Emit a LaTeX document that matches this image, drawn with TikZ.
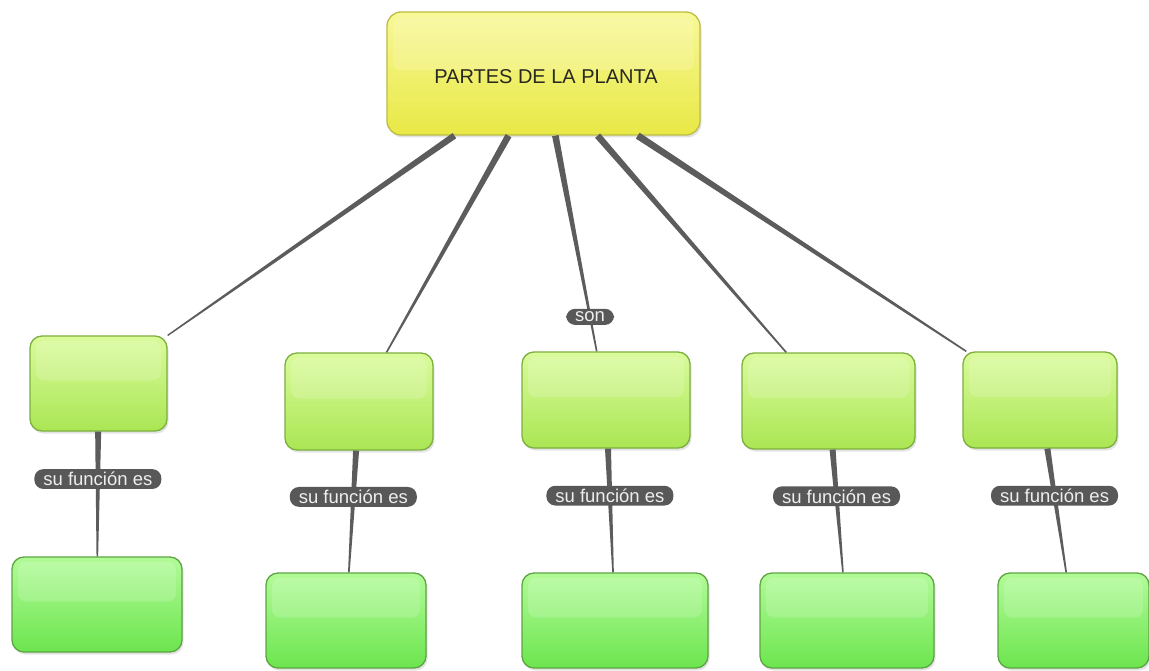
\documentclass[tikz,border=0pt]{standalone}
\usepackage{fontspec}
\setmainfont{Liberation Sans}
\usetikzlibrary{calc,shadows}

\definecolor{linkgrey}{RGB}{92,92,92}
\definecolor{phrasegrey}{RGB}{88,88,88}
\definecolor{rootedge}{RGB}{188,188,70}
\definecolor{partedge}{RGB}{125,175,62}
\definecolor{roleedge}{RGB}{92,165,66}

\tikzset{
  gloss/.style={path picture={\fill[white,opacity=0.16,rounded corners=8pt]
    ($(path picture bounding box.north west)+(6pt,-5pt)$) rectangle
    ($(path picture bounding box.east)+(-6pt,3pt)$);}},
  root/.style={rounded corners=14pt,draw=rootedge,line width=1.3pt,gloss,
    top color={rgb,255:red,248;green,248;blue,150},middle color={rgb,255:red,243;green,243;blue,110},
    bottom color={rgb,255:red,232;green,232;blue,70},
    drop shadow={opacity=0.22,shadow xshift=1.5pt,shadow yshift=-2.5pt},
    inner sep=0pt,font=\fontsize{20}{23}\selectfont,text={rgb,255:red,40;green,40;blue,32}},
  part/.style 2 args={rounded corners=12pt,draw=partedge,line width=1.3pt,gloss,
    top color={rgb,255:red,218;green,251;blue,155},middle color={rgb,255:red,196;green,245;blue,118},
    bottom color={rgb,255:red,170;green,230;blue,84},
    drop shadow={opacity=0.22,shadow xshift=1.5pt,shadow yshift=-2.5pt},
    inner sep=0pt,minimum width=#1,minimum height=#2},
  role/.style 2 args={rounded corners=12pt,draw=roleedge,line width=1.3pt,gloss,
    top color={rgb,255:red,178;green,251;blue,152},middle color={rgb,255:red,140;green,241;blue,110},
    bottom color={rgb,255:red,108;green,229;blue,78},
    drop shadow={opacity=0.22,shadow xshift=1.5pt,shadow yshift=-2.5pt},
    inner sep=0pt,minimum width=#1,minimum height=#2},
  phrase/.style={fill=phrasegrey,text={rgb,255:red,238;green,238;blue,238},rounded corners=9pt,
    inner xsep=9pt,inner ysep=3pt,font=\fontsize{18.5}{19}\selectfont}
}

\newcommand{\Link}[4]{%
  \path (#1) -- (#2) coordinate[pos=0] (la) coordinate[pos=1] (lb);
  \fill[linkgrey] ($(la)!#3!90:(lb)$) -- ($(lb)!#4!-90:(la)$) -- ($(lb)!#4!90:(la)$) -- ($(la)!#3!-90:(lb)$) -- cycle;}

\begin{document}
\begin{tikzpicture}[x=1pt,y=-1pt]
\useasboundingbox[fill=white] (0,0) rectangle (1149,671);
\node[root,minimum width=313pt,minimum height=123pt] (planta) at (543.5,73.5) {\hspace*{5pt}\raisebox{-10pt}[0pt][0pt]{PARTES DE LA PLANTA}};
\node[part={137pt}{95pt}] (p1) at (98.5,383.5) {};
\node[part={148pt}{97pt}] (p2) at (359,401.5) {};
\node[part={168pt}{96pt}] (p3) at (606,400) {};
\node[part={173pt}{96pt}] (p4) at (828.5,401) {};
\node[part={154pt}{96pt}] (p5) at (1040,400) {};
\node[role={170pt}{95pt}] (f1) at (97,604.5) {};
\node[role={160pt}{95pt}] (f2) at (346,620.5) {};
\node[role={186pt}{95pt}] (f3) at (615,620.5) {};
\node[role={174pt}{95pt}] (f4) at (847,620.5) {};
\node[role={151pt}{95pt}] (f5) at (1073.5,620.5) {};
\Link{planta}{p1}{3.2pt}{0.7pt}
\Link{planta}{p2}{3.3pt}{0.8pt}
\Link{planta}{p3}{3.3pt}{0.8pt}
\Link{planta}{p4}{3.3pt}{0.8pt}
\Link{planta}{p5}{3.5pt}{0.8pt}
\foreach \i in {1,...,5}{\Link{p\i}{f\i}{3pt}{0.8pt}}
\path (planta) -- (p3) node[phrase,pos=0.84] (son) {son};
\foreach \i in {1,...,5}{\path (p\i) -- (f\i) node[phrase,pos=0.38] (fn\i) {su función es};}
\end{tikzpicture}
\end{document}
